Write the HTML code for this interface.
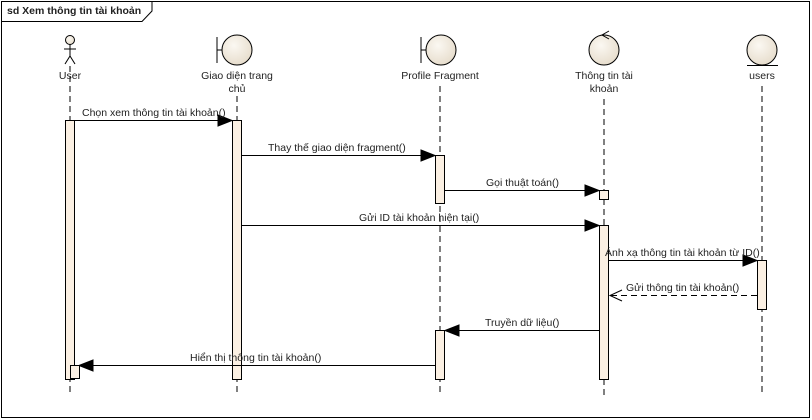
<!DOCTYPE html>
<html><head><meta charset="utf-8"><style>
html,body{margin:0;padding:0;background:#fff;width:812px;height:420px;overflow:hidden}
svg text{font-family:"Liberation Sans",sans-serif;font-size:10.5px;fill:#222}
</style></head><body>
<svg width="812" height="420" xmlns="http://www.w3.org/2000/svg">
<defs>
<radialGradient id="g" cx="0.4" cy="0.35" r="0.7"><stop offset="0" stop-color="#fbf8f2"/><stop offset="1" stop-color="#e6dccb"/></radialGradient>
</defs>
<rect x="1.5" y="1.5" width="808" height="416" fill="#fff" stroke="#000"/>
<path d="M1.5 21.5 H142 L152 11 V1.5" fill="none" stroke="#000"/>
<text x="7" y="14" style="font-weight:bold;font-size:10.5px">sd Xem thông tin tài khoản</text>
<!-- lifelines -->
<g stroke="#000" stroke-dasharray="6,4">
<line x1="70" y1="66" x2="70" y2="395"/>
<line x1="237" y1="96" x2="237" y2="395"/>
<line x1="440" y1="86" x2="440" y2="395"/>
<line x1="604" y1="99" x2="604" y2="395"/>
<line x1="762" y1="86" x2="762" y2="395"/>
</g>
<!-- actor -->
<g stroke="#000" fill="none">
<circle cx="70" cy="40" r="4.5" fill="url(#g)"/>
<line x1="70" y1="44.5" x2="70" y2="56"/><line x1="64" y1="49" x2="76" y2="49"/>
<line x1="70" y1="56" x2="65" y2="64"/><line x1="70" y1="56" x2="75" y2="64"/>
</g>
<!-- boundaries -->
<g stroke="#000">
<circle cx="237" cy="50" r="15" fill="url(#g)"/><line x1="217" y1="37" x2="217" y2="63"/><line x1="217" y1="50" x2="222" y2="50"/>
<circle cx="441" cy="50" r="15" fill="url(#g)"/><line x1="421" y1="37" x2="421" y2="63"/><line x1="421" y1="50" x2="426" y2="50"/>
<circle cx="604" cy="50" r="15" fill="url(#g)"/><path d="M609 31 L602 35 L609 39" fill="none"/>
<circle cx="762" cy="50" r="15" fill="url(#g)"/><line x1="747" y1="65.5" x2="778" y2="65.5"/>
</g>
<g text-anchor="middle">
<text x="70" y="79">User</text>
<text x="237" y="79">Giao diện trang</text><text x="237" y="92">chủ</text>
<text x="440" y="79">Profile Fragment</text>
<text x="604" y="79">Thông tin tài</text><text x="604" y="92">khoản</text>
<text x="762" y="79">users</text>
</g>
<!-- activations -->
<g fill="#fbf0e3" stroke="#000">
<rect x="65.5" y="120.5" width="9" height="259"/>
<rect x="70.5" y="365.5" width="9" height="13"/>
<rect x="232.5" y="120.5" width="9" height="259"/>
<rect x="435.5" y="155.5" width="9" height="48"/>
<rect x="435.5" y="330.5" width="9" height="49"/>
<rect x="599.5" y="190.5" width="9" height="9"/>
<rect x="599.5" y="225.5" width="9" height="154"/>
<rect x="757.5" y="260.5" width="9" height="49"/>
</g>
<!-- messages -->
<g stroke="#000">
<line x1="75" y1="120.5" x2="222" y2="120.5"/><path d="M232 120.5 L218 115 L218 126Z" fill="#000"/>
<line x1="242" y1="155.5" x2="425" y2="155.5"/><path d="M435 155.5 L421 150 L421 161Z" fill="#000"/>
<line x1="445" y1="190.5" x2="589" y2="190.5"/><path d="M599 190.5 L585 185 L585 196Z" fill="#000"/>
<line x1="242" y1="225.5" x2="589" y2="225.5"/><path d="M599 225.5 L585 220 L585 231Z" fill="#000"/>
<line x1="609" y1="260.5" x2="747" y2="260.5"/><path d="M757 260.5 L743 255 L743 266Z" fill="#000"/>
<line x1="757" y1="295.5" x2="610" y2="295.5" stroke-dasharray="6,4"/><path d="M622 290 L610 295.5 L622 301" fill="none"/>
<line x1="599" y1="330.5" x2="455" y2="330.5"/><path d="M445 330.5 L459 325 L459 336Z" fill="#000"/>
<line x1="435" y1="365.5" x2="89" y2="365.5"/><path d="M79 365.5 L93 360 L93 371Z" fill="#000"/>
</g>
<text x="82" y="116">Chọn xem thông tin tài khoản()</text>
<text x="268" y="151">Thay thế giao diện fragment()</text>
<text x="486" y="186">Gọi thuật toán()</text>
<text x="359" y="221">Gửi ID tài khoản hiện tại()</text>
<text x="605" y="256">Ánh xạ thông tin tài khoản từ ID()</text>
<text x="626" y="291">Gửi thông tin tài khoản()</text>
<text x="485" y="326">Truyền dữ liệu()</text>
<text x="190" y="361">Hiển thị thông tin tài khoản()</text>
</svg>
</body></html>
